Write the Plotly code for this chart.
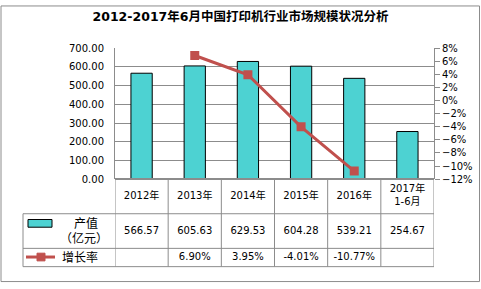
import plotly.graph_objects as go

categories = ["2012年", "2013年", "2014年", "2015年", "2016年", "2017年<br>1-6月"]
output_values = [566.57, 605.63, 629.53, 604.28, 539.21, 254.67]
growth_rates = [None, 6.90, 3.95, -4.01, -10.77, None]
output_labels = ["566.57", "605.63", "629.53", "604.28", "539.21", "254.67"]
growth_labels = ["", "6.90%", "3.95%", "-4.01%", "-10.77%", ""]

W, H = 481, 289
FONT = "DejaVu Sans, Noto Sans CJK SC, sans-serif"
GRID = "#8c8c8c"
BAR = "#4DD2D2"
LINE = "#C0504D"

def py(p):
    return 1 - p / H

def px(p):
    return p / W

xs = list(range(len(categories)))
n = len(categories)

fig = go.Figure()
fig.add_trace(go.Bar(x=xs, y=output_values, marker=dict(color=BAR, line=dict(color="black", width=1)),
                     width=0.4, yaxis="y", showlegend=False))
fig.add_trace(go.Scatter(x=xs, y=growth_rates, mode="lines+markers", yaxis="y2",
                         line=dict(color=LINE, width=3),
                         marker=dict(symbol="square", size=9, color=LINE),
                         showlegend=False))

# data table text drawn as text traces on a pixel-row axis (y3: 0 at top, H at bottom)
tf = dict(family=FONT, size=10, color="black")
fig.add_trace(go.Scatter(x=xs, y=[199] * n, text=categories, mode="text", xaxis="x", yaxis="y3",
                         textfont=tf, showlegend=False, cliponaxis=False, hoverinfo="skip"))
fig.add_trace(go.Scatter(x=xs, y=[235] * n, text=output_labels, mode="text", xaxis="x", yaxis="y3",
                         textfont=tf, showlegend=False, cliponaxis=False, hoverinfo="skip"))
fig.add_trace(go.Scatter(x=xs, y=[262] * n, text=growth_labels, mode="text", xaxis="x", yaxis="y3",
                         textfont=tf, showlegend=False, cliponaxis=False, hoverinfo="skip"))

x_left, x_right = 115, 434
y_top, y_bot = 45, 181

fig.update_layout(
    width=W, height=H, margin=dict(l=0, r=0, t=0, b=0),
    paper_bgcolor="white", plot_bgcolor="rgba(0,0,0,0)",
    font=dict(family=FONT, size=10, color="black"),
    title=dict(text="<b>2012-2017年6月中国打印机行业市场规模状况分析</b>", x=0.5, xanchor="center",
               y=py(17), yanchor="middle", font=dict(size=12.5, family=FONT)),
    xaxis=dict(domain=[px(x_left), px(x_right)], range=[-0.5, n - 0.5],
               showticklabels=False, showgrid=False, zeroline=False, fixedrange=True),
    yaxis=dict(domain=[py(y_bot), py(y_top)], range=[0, 700], dtick=100, tickformat=".2f",
               showgrid=True, gridcolor=GRID, gridwidth=1, showline=True, linecolor=GRID,
               zeroline=False, ticks="", tickfont=dict(size=10), ticklabelstandoff=8),
    yaxis2=dict(overlaying="y", side="right", range=[-12, 8], dtick=2, ticksuffix="%",
                showgrid=False, showline=True, linecolor=GRID, ticks="outside", ticklen=5,
                tickcolor=GRID, zeroline=False, tickfont=dict(size=10)),
    yaxis3=dict(domain=[0, 1], range=[H, 0], anchor="x", visible=False, showgrid=False, zeroline=False,
                fixedrange=True),
    bargap=0.6,
)

shapes = []
def line(x0, y0, x1, y1, xref="paper"):
    shapes.append(dict(type="line", xref=xref, yref="paper", x0=x0, x1=x1, y0=py(y0), y1=py(y1),
                       line=dict(color=GRID, width=1)))

# table lines
line(-0.5, y_bot, -0.5, 272, xref="x")
for i in range(n):
    line(i + 0.5, y_bot, i + 0.5, 272, xref="x")
shapes.append(dict(type="line", xref="paper", yref="paper", x0=px(x_left), x1=px(x_right),
                   y0=py(y_bot), y1=py(y_bot), line=dict(color=GRID, width=2)))
for yy in (217, 253, 272):
    line(px(23), yy, px(x_right), yy)
line(px(23), 217, px(23), 272)
# outer border
shapes.append(dict(type="rect", xref="paper", yref="paper", x0=px(1), x1=px(479.5), y0=py(287.5), y1=py(1),
                   line=dict(color=GRID, width=1)))
# legend keys
shapes.append(dict(type="rect", xref="paper", yref="paper", x0=px(28), x1=px(52), y0=py(231), y1=py(223),
                   fillcolor=BAR, line=dict(color="black", width=1)))
shapes.append(dict(type="line", xref="paper", yref="paper", x0=px(26), x1=px(55), y0=py(262), y1=py(262),
                   line=dict(color=LINE, width=3)))
shapes.append(dict(type="rect", xref="paper", yref="paper", x0=px(37), x1=px(45), y0=py(266), y1=py(258),
                   fillcolor=LINE, line=dict(color=LINE, width=1)))
fig.update_layout(shapes=shapes)

ann = []
def text(x, y, t, size=12):
    ann.append(dict(x=px(x), y=py(y), xref="paper", yref="paper", text=t, showarrow=False,
                    xanchor="center", yanchor="middle", font=dict(size=size, family=FONT)))

text(86, 227, "产值")
text(84, 243, "（亿元）")
text(80, 262, "增长率")
fig.update_layout(annotations=ann)

fig.write_html("out.html")
